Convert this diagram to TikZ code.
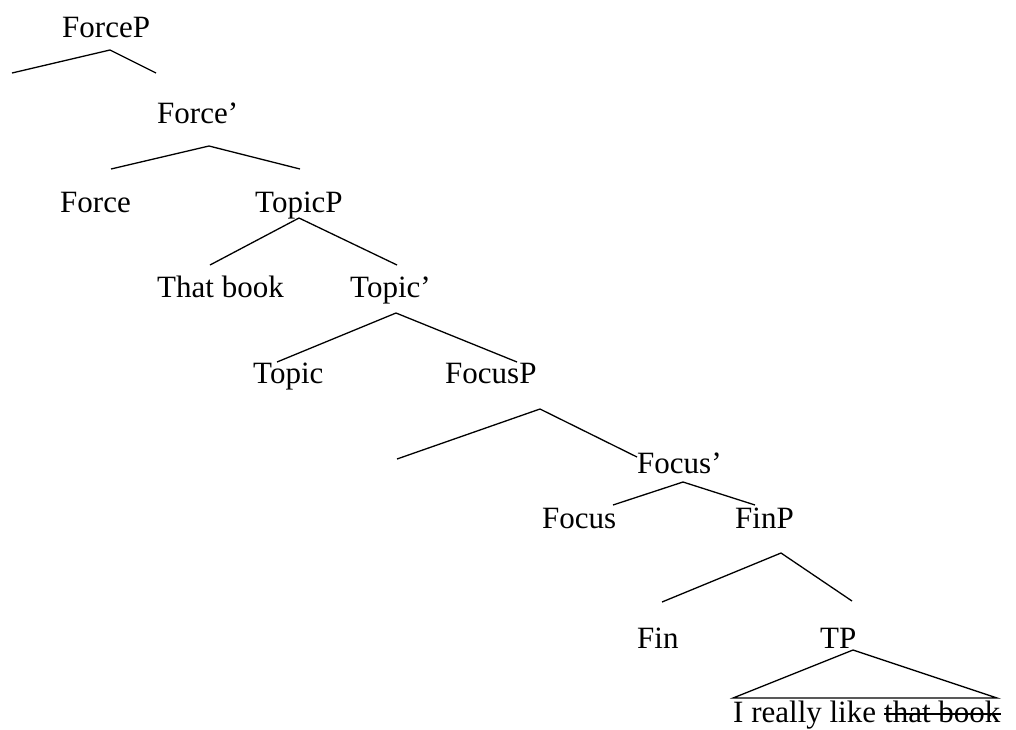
\documentclass[tikz,border=0pt]{standalone}
\usepackage{fontspec}
\setmainfont{Liberation Serif}
\usetikzlibrary{positioning}
\newcommand{\TreeFont}{\fontsize{31pt}{36pt}\selectfont}

\begin{document}
\begin{tikzpicture}[x=1pt, y=-1pt,
  label/.style={inner sep=0pt, anchor=base west, font=\TreeFont},
  branch/.style={line width=1.3pt}]
  \useasboundingbox (0,0) rectangle (1016,729);
  % category labels (left edge, baseline)
  \node[label] (forceP)   at (62,37)   {ForceP};
  \node[label] (forceB)   at (157,123) {Force'};
  \node[label] (force)    at (60,212)  {Force};
  \node[label] (topicP)   at (255,212) {TopicP};
  \node[label] (thatbook) at (157,297) {That book};
  \node[label] (topicB)   at (350,297) {Topic'};
  \node[label] (topic)    at (253,383) {Topic};
  \node[label] (focusP)   at (445,383) {FocusP};
  \node[label] (focusB)   at (637,473) {Focus'};
  \node[label] (focus)    at (542,528) {Focus};
  \node[label] (finP)     at (735,528) {FinP};
  \node[label] (fin)      at (637,648) {Fin};
  \node[label] (tp)       at (820,648) {TP};
  \node[label] (sent)     at (733,722) {I really like};
  \node[label] (trace)    at ([xshift=7.75pt]sent.base east) {that book};
  % strike through the copy left behind
  \draw[branch] (trace.west |- 0,714) -- (trace.east |- 0,714);
  % branch points and branch ends
  \coordinate (forceP-a) at (110,50);  \coordinate (forceP-l) at (12,73);   \coordinate (forceP-r) at (156,73);
  \coordinate (forceB-a) at (209,146); \coordinate (forceB-l) at (111,169); \coordinate (forceB-r) at (300,169);
  \coordinate (topicP-a) at (299,218); \coordinate (topicP-l) at (210,265); \coordinate (topicP-r) at (397,265);
  \coordinate (topicB-a) at (396,313); \coordinate (topicB-l) at (277,362); \coordinate (topicB-r) at (517,362);
  \coordinate (focusP-a) at (540,409); \coordinate (focusP-l) at (397,459); \coordinate (focusP-r) at (637,457);
  \coordinate (focusB-a) at (683,482); \coordinate (focusB-l) at (613,505); \coordinate (focusB-r) at (755,505);
  \coordinate (finP-a)   at (781,553); \coordinate (finP-l)   at (662,602); \coordinate (finP-r)   at (852,601);
  \coordinate (tp-a)     at (853,650); \coordinate (tp-l)     at (733,698); \coordinate (tp-r)     at (997,698);
  % branches
  \foreach \n in {forceP,forceB,topicP,topicB,focusP,focusB,finP}{
    \draw[branch] (\n-l) -- (\n-a) -- (\n-r);
  }
  % TP roof
  \draw[branch] (tp-l) -- (tp-a) -- (tp-r) -- cycle;
\end{tikzpicture}
\end{document}
